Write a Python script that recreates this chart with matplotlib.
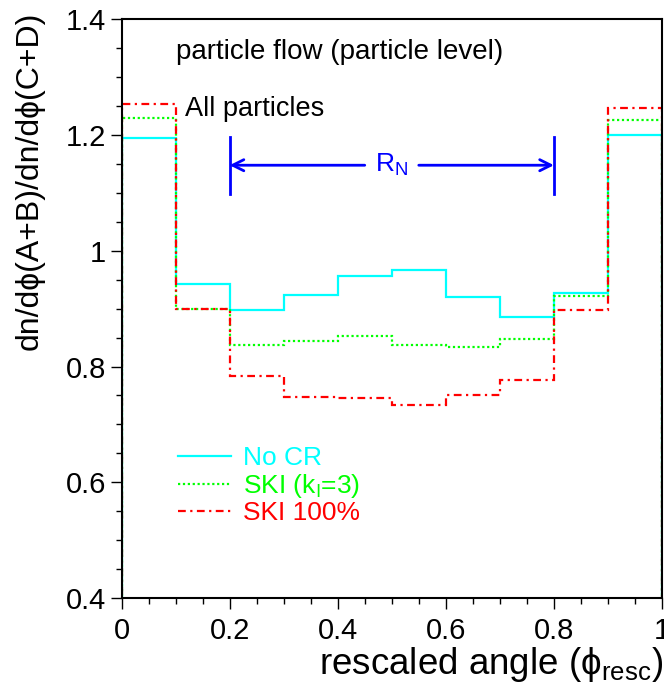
import numpy as np
import matplotlib
matplotlib.use("Agg")
import matplotlib.pyplot as plt
from matplotlib.ticker import MultipleLocator

plt.rcParams['font.family'] = ['Liberation Sans', 'DejaVu Sans']
plt.rcParams['mathtext.fontset'] = 'custom'
plt.rcParams['mathtext.rm'] = 'Liberation Sans'
plt.rcParams['mathtext.it'] = 'Liberation Sans:italic'

edges = np.linspace(0, 1, 11)
no_cr = [1.195, 0.943, 0.898, 0.924, 0.957, 0.966, 0.921, 0.886, 0.927, 1.201]
ski_k3 = [1.229, 0.899, 0.837, 0.844, 0.853, 0.838, 0.834, 0.848, 0.922, 1.227]
ski_100 = [1.253, 0.899, 0.784, 0.748, 0.745, 0.733, 0.750, 0.776, 0.897, 1.247]
labels = ["No CR", r"SKI (k$_{\rm I}$=3)", "SKI 100%"]
colors = ["#00ffff", "#00ff00", "#ff0000"]
styles = ["-", (0, (1, 1.2)), (0, (3.5, 2, 1, 2))]
xticks = [0, 0.2, 0.4, 0.6, 0.8, 1.0]
xticklabels = ["0", "0.2", "0.4", "0.6", "0.8", "1"]
yticks = [0.4, 0.6, 0.8, 1.0, 1.2, 1.4]
yticklabels = ["0.4", "0.6", "0.8", "1", "1.2", "1.4"]

r_lo, r_hi, r_y = 0.2, 0.8, 1.148

fig = plt.figure(figsize=(6.64, 6.88), dpi=100)
ax = fig.add_axes([0.183, 0.131, 0.814, 0.8407])

for vals, c, ls, lab in zip([no_cr, ski_k3, ski_100], colors, styles, labels):
    ax.stairs(vals, edges, baseline=0, color=c, linestyle=ls, lw=1.6, label=lab)

ax.set_xlim(0, 1)
ax.set_ylim(0.4, 1.4)
ax.set_xticks(xticks)
ax.set_xticklabels(xticklabels)
ax.set_yticks(yticks)
ax.set_yticklabels(yticklabels)
ax.xaxis.set_minor_locator(MultipleLocator(0.05))
ax.yaxis.set_minor_locator(MultipleLocator(0.05))
ax.tick_params(which='both', direction='out', labelsize=21, width=1)
ax.tick_params(which='major', length=8)
ax.tick_params(which='minor', length=4)
ax.tick_params(axis='x', pad=6)
ax.tick_params(axis='y', pad=3)
for s in ax.spines.values():
    s.set_linewidth(1.5)

fig.text(1 - 1 / 664, 1 - 665 / 688, "rescaled angle (\u03d5$_{\\rm resc}$)",
         ha='right', va='center', fontsize=26.5)
fig.text(30 / 664, 1 - 12 / 688, "dn/d\u03d5(A+B)/dn/d\u03d5(C+D)",
         rotation=90, ha='center', va='top', fontsize=23)

ax.text(0.1, 1.343, "particle flow (particle level)", fontsize=20, ha='left', va='center')
ax.text(0.117, 1.246, "All particles", fontsize=19.5, ha='left', va='center')

# R_N range marker
blue = "#0000ff"
ax.plot([r_lo, r_lo], [1.099, 1.197], color=blue, lw=2)
ax.plot([r_hi, r_hi], [1.099, 1.197], color=blue, lw=2)
ax.annotate("", xy=(r_lo, r_y), xytext=(0.45, r_y),
            arrowprops=dict(arrowstyle="->,head_length=0.8,head_width=0.4", color=blue, lw=2,
                            shrinkA=0, shrinkB=0))
ax.annotate("", xy=(r_hi, r_y), xytext=(0.55, r_y),
            arrowprops=dict(arrowstyle="->,head_length=0.8,head_width=0.4", color=blue, lw=2,
                            shrinkA=0, shrinkB=0))
ax.text(0.5, r_y, r"R$_{\rm N}$", color=blue, fontsize=19, ha='center', va='center')

leg = ax.legend(handles=[plt.Line2D([], [], color=c, ls=ls, lw=1.6) for c, ls in zip(colors, styles)],
                labels=labels, loc='upper left', bbox_to_anchor=(0.085, 0.28),
                frameon=False, fontsize=19, handlelength=2.0, handletextpad=0.45,
                labelspacing=0.05, borderaxespad=0)
for t, c in zip(leg.get_texts(), colors):
    t.set_color(c)

fig.savefig("out.png", dpi=100)
